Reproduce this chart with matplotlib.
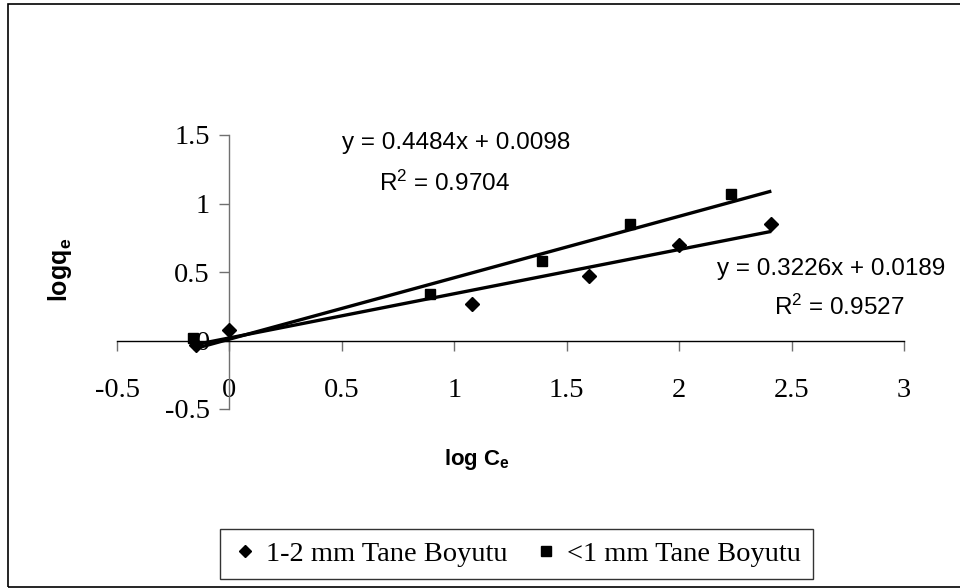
import matplotlib
matplotlib.use("Agg")
import matplotlib.pyplot as plt
from matplotlib.patches import Rectangle
from matplotlib.lines import Line2D

plt.rcParams['mathtext.fontset'] = 'custom'
plt.rcParams['mathtext.rm'] = 'Liberation Sans'
plt.rcParams['mathtext.it'] = 'Liberation Sans'
plt.rcParams['mathtext.bf'] = 'Liberation Sans:bold'

# data
x_12mm = [-0.15, 0.0, 1.08, 1.60, 2.00, 2.41]
y_12mm = [-0.03, 0.08, 0.27, 0.47, 0.70, 0.85]
x_1mm = [-0.16, 0.89, 1.39, 1.78, 2.23]
y_1mm = [0.02, 0.34, 0.58, 0.85, 1.07]
fit_12mm = (0.3226, 0.0189)
fit_1mm = (0.4484, 0.0098)
fit_xrange = [-0.16, 2.41]
xticks = [-0.5, 0, 0.5, 1, 1.5, 2, 2.5, 3]
yticks = [-0.5, 0, 0.5, 1, 1.5]
labels = ['1-2 mm Tane Boyutu', '<1 mm Tane Boyutu']

W, H = 960, 588
fig = plt.figure(figsize=(9.6, 5.88), dpi=100)
fig.patch.set_facecolor('white')

# outer chart border
fig.add_artist(Rectangle((8 / W, 1 / H), 1.2, (586 - 3) / H, transform=fig.transFigure,
                         fill=False, edgecolor='black', linewidth=1.2))

left, right, top, bottom = 117, 904, 135, 409
ax = fig.add_axes([left / W, 1 - bottom / H, (right - left) / W, (bottom - top) / H])
ax.set_xlim(-0.5, 3)
ax.set_ylim(-0.5, 1.5)
ax.patch.set_alpha(0)
for s in ['top', 'right']:
    ax.spines[s].set_visible(False)
ax.spines['left'].set_position(('data', 0))
ax.spines['bottom'].set_position(('data', 0))
ax.spines['left'].set_color('#707070')
ax.spines['left'].set_linewidth(1.0)
ax.spines['bottom'].set_color('black')
ax.spines['bottom'].set_linewidth(1.0)

ax.set_xticks(xticks)
ax.set_yticks(yticks)
ax.set_xticklabels([f'{t:g}' for t in xticks], family='Liberation Serif', fontsize=20.5)
ax.set_yticklabels([f'{t:g}' for t in yticks], family='Liberation Serif', fontsize=20.5)
ax.tick_params(axis='x', direction='out', length=7, width=1, color='#707070', pad=20)
ax.tick_params(axis='y', direction='out', length=7, width=1, color='#707070', pad=7)

# trendlines
for (m, b) in [fit_1mm, fit_12mm]:
    xs = fit_xrange
    ys = [m * v + b for v in xs]
    ax.plot(xs, ys, color='black', linewidth=2.4, solid_capstyle='butt', zorder=3)

ax.plot(x_12mm, y_12mm, linestyle='none', marker='D', markersize=7.5, color='black', zorder=4, clip_on=False)
ax.plot(x_1mm, y_1mm, linestyle='none', marker='s', markersize=7.5, color='black', zorder=4, clip_on=False)

# equations
eq_fs = 17.5
ax.text(1.007, 1.445, f'y = {fit_1mm[0]:.4f}x + {fit_1mm[1]:.4f}', ha='center', va='center',
        family='Liberation Sans', fontsize=eq_fs)
ax.text(0.955, 1.146, r'R$^{2}$ = 0.9704', ha='center', va='center',
        family='Liberation Sans', fontsize=eq_fs)
ax.text(2.167, 0.525, f'y = {fit_12mm[0]:.4f}x + {fit_12mm[1]:.4f}', ha='left', va='center',
        family='Liberation Sans', fontsize=eq_fs)
ax.text(2.710, 0.240, r'R$^{2}$ = 0.9527', ha='center', va='center',
        family='Liberation Sans', fontsize=eq_fs)

# axis labels
fig.text(477 / W, 1 - 460 / H, r'$\mathbf{log\ C_e}$', ha='center', va='center', fontsize=16)
fig.text(60 / W, 1 - 270 / H, r'$\mathbf{logq_e}$', ha='center', va='center', fontsize=18,
         rotation=90)

handles = [Line2D([], [], linestyle='none', marker='D', markersize=6.5, color='black'),
           Line2D([], [], linestyle='none', marker='s', markersize=6.5, color='black')]
leg = fig.legend(handles, labels, loc='center', bbox_to_anchor=(516.5 / W, 1 - 554 / H),
                 ncol=2, frameon=True, fancybox=False, edgecolor='black',
                 prop={'family': 'Liberation Serif', 'size': 20.5}, handlelength=0.9,
                 handletextpad=0.3, columnspacing=0.9, borderpad=0.42, borderaxespad=0)
leg.get_frame().set_linewidth(1.0)

fig.savefig('out.png', dpi=100, facecolor='white')
